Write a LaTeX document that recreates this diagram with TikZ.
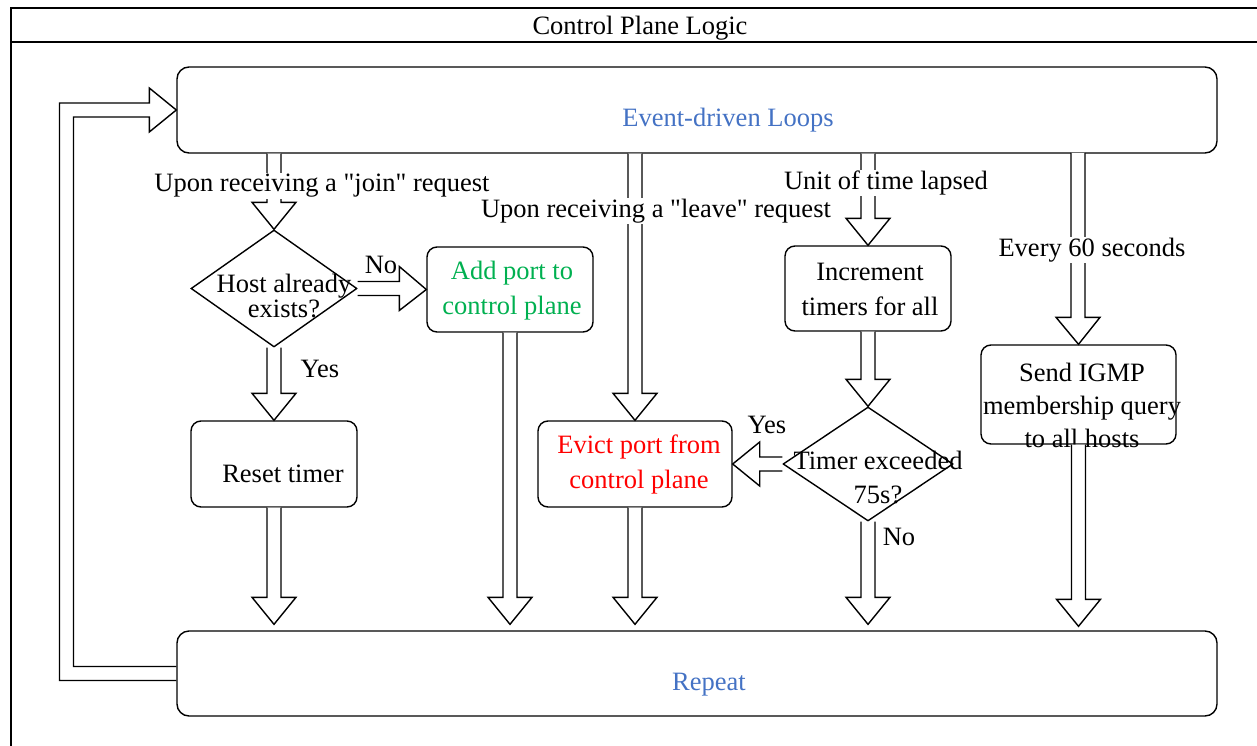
\documentclass[tikz,border=0pt]{standalone}
\usepackage{fontspec}
\setmainfont{Liberation Serif}[Ligatures=TeXOff]
\usetikzlibrary{calc,shapes.geometric}
\definecolor{evblue}{HTML}{4472C4}
\definecolor{addgreen}{HTML}{00B050}
\definecolor{evred}{HTML}{FF0000}
\newcommand{\bdown}[2]{\draw[blk] let \p1=(#1), \p2=(#2) in
  (\x1-7pt,\y1) -- (\x1-7pt,\y2+27pt) -- (\x1-22pt,\y2+27pt) -- (\x2,\y2)
  -- (\x1+22pt,\y2+27pt) -- (\x1+7pt,\y2+27pt) -- (\x1+7pt,\y1);}
\newcommand{\bright}[2]{\draw[blk] let \p1=(#1), \p2=(#2) in
  (\x1,\y1+7pt) -- (\x2-27pt,\y1+7pt) -- (\x2-27pt,\y1+22pt) -- (\x2,\y2)
  -- (\x2-27pt,\y1-22pt) -- (\x2-27pt,\y1-7pt) -- (\x1,\y1-7pt);}
\newcommand{\bleft}[2]{\draw[blk] let \p1=(#1), \p2=(#2) in
  (\x1,\y1+7pt) -- (\x2+27pt,\y1+7pt) -- (\x2+27pt,\y1+22pt) -- (\x2,\y2)
  -- (\x2+27pt,\y1-22pt) -- (\x2+27pt,\y1-7pt) -- (\x1,\y1-7pt);}
\tikzset{
  every node/.style={font=\fontsize{26.5}{35}\selectfont},
  rbox/.style={draw, line width=1.4pt, rounded corners=12pt, inner sep=0pt},
  dia/.style={draw, diamond, line width=1.4pt, inner sep=0pt},
  blk/.style={draw, line width=1.4pt, fill=white, line join=miter},
  txt/.style={align=center, inner sep=1pt},
  lbl/.style={fill=white, inner sep=1pt},
}
\begin{document}
\begin{tikzpicture}[x=1pt,y=-1pt]
\useasboundingbox (0,0) rectangle (1257,746);
\clip (0,0) rectangle (1257,746);
% frame
\draw[line width=1.5pt] (11,770) -- (11,8) -- (1280,8);
\draw[line width=1.5pt] (11,42) -- (1280,42);
\node[txt] (title) at (640,28) {Control Plane Logic};
% nodes
\node[rbox, minimum width=1040pt, minimum height=86pt] (ev) at (697,110) {};
\node[txt, text=evblue] (evt) at (728,120) {Event-driven Loops};
\node[rbox, minimum width=1040pt, minimum height=85pt] (rp) at (697,673.5) {};
\node[txt, text=evblue] (rpt) at (709,685) {Repeat};
\node[dia, minimum width=166pt, minimum height=117pt] (d1) at (274,288.5) {};
\node[txt, font=\fontsize{26.5}{25}\selectfont] (d1t) at (284,296) {Host already\\exists?};
\node[rbox, rounded corners=10pt, minimum width=166pt, minimum height=85pt] (add) at (510,289.5) {};
\node[txt, text=addgreen] (addt) at (512,291) {Add port to\\control plane};
\node[rbox, rounded corners=10pt, minimum width=166pt, minimum height=86pt] (reset) at (274,464) {};
\node[txt] (resett) at (283,474) {Reset timer};
\node[rbox, rounded corners=10pt, minimum width=194pt, minimum height=86pt] (evict) at (635,464) {};
\node[txt, text=evred] (evictt) at (639,464) {Evict port from\\control plane};
\node[rbox, rounded corners=10pt, minimum width=166pt, minimum height=85pt] (inc) at (868,288.5) {};
\node[txt] (inct) at (870,289) {Increment\\timers for all};
\node[dia, minimum width=170pt, minimum height=114pt] (d2) at (868,464) {};
\node[txt, font=\fontsize{26.5}{34}\selectfont] (d2t) at (878,477) {Timer exceeded\\75s?};
\node[rbox, rounded corners=10pt, minimum width=195pt, minimum height=99pt] (igmp) at (1078.5,394.5) {};
\node[txt, font=\fontsize{26.5}{33}\selectfont] (igmpt) at (1082,405) {Send IGMP\\membership query\\to all hosts};
\coordinate (lp) at (66.5,400);
% block arrows
\bdown{d1.north |- ev.south}{d1.north}
\bdown{evict.north |- ev.south}{evict.north}
\bdown{inc.north |- ev.south}{inc.north}
\bdown{1078,153}{igmp.north}
\bdown{d1.south}{reset.north}
\bdown{inc.south}{d2.north}
\bright{d1.east}{add.west}
\bleft{d2.west}{evict.east}
\bdown{reset.south}{$(reset.south |- rp.north)+(0,-6)$}
\bdown{add.south}{$(add.south |- rp.north)+(0,-6)$}
\bdown{evict.south}{$(evict.south |- rp.north)+(0,-6)$}
\bdown{d2.south}{$(d2.south |- rp.north)+(0,-6)$}
\bdown{igmp.south}{$(igmp.south |- rp.north)+(0,-4)$}
% loop arrow
\draw[blk, fill=none] let \p1=(rp.west), \p2=(ev.west), \p3=(lp) in
  (\x1,\y1-7pt) -- (\x3-7pt,\y1-7pt) -- (\x3-7pt,\y2+7pt) -- (\x2-27pt,\y2+7pt)
  -- (\x2-27pt,\y2+22pt) -- (\x2,\y2) -- (\x2-27pt,\y2-22pt) -- (\x2-27pt,\y2-7pt)
  -- (\x3+7pt,\y2-7pt) -- (\x3+7pt,\y1+7pt) -- (\x1,\y1+7pt);
% labels
\node[lbl] (ljoin) at (322,186) {Upon receiving a "join" request};
\node[lbl] (lleave) at (656,211) {Upon receiving a "leave" request};
\node[lbl] (lunit) at (886,183) {Unit of time lapsed};
\node[lbl] (levery) at (1092,250) {Every 60 seconds};
\node[txt] (lno1) at (381,265) {No};
\node[txt] (lyes1) at (320,369) {Yes};
\node[txt] (lyes2) at (767,425) {Yes};
\node[txt] (lno2) at (899,537) {No};
\end{tikzpicture}
\end{document}
